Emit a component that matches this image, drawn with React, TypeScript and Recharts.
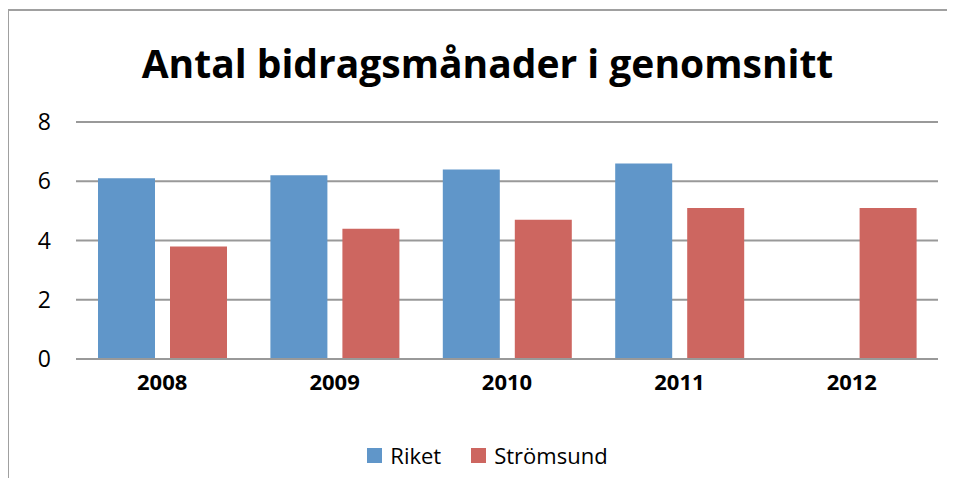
import React from "react";
import { Bar, BarChart, CartesianGrid, Legend, XAxis, YAxis } from "recharts";

const years = ["2008", "2009", "2010", "2011", "2012"];
const riket = [6.1, 6.2, 6.4, 6.6, null];
const stromsund = [3.8, 4.4, 4.7, 5.1, 5.1];
const yTicks = [0, 2, 4, 6, 8];

const data = years.map((year, i) => ({ year, Riket: riket[i], Strömsund: stromsund[i] }));

const font = "'Open Sans', sans-serif";

function LegendContent({ payload }: any) {
    return (
        <div style={{ display: "flex", justifyContent: "center", alignItems: "center", fontFamily: font, fontSize: 22, color: "#000" }}>
            {(payload || []).map((p: any, i: number) => (
                <div key={p.value} style={{ display: "flex", alignItems: "center", marginLeft: i ? 30 : 0 }}>
                    <span style={{ width: 15, height: 15, background: p.color, marginRight: 8, display: "inline-block" }} />
                    <span>{p.value}</span>
                </div>
            ))}
        </div>
    );
}

export default function App() {
    return (
        <div style={{ position: "relative", width: 955, height: 486, margin: -8, overflow: "hidden", background: "#fff" }}>
            <div style={{ position: "absolute", left: 7, top: 9, width: 1000, height: 600, border: "2px solid #a0a0a0" }} />
            <div style={{ position: "absolute", left: 0, top: 36, width: 975, textAlign: "center", fontFamily: font, fontWeight: 700, fontSize: 39, color: "#000" }}>
                Antal bidragsmånader i genomsnitt
            </div>
            <div style={{ position: "absolute", left: 0, top: 0 }}>
                <BarChart width={955} height={486} data={data} margin={{ top: 122, right: 17, left: 0, bottom: 97 }} barSize={57} barGap={15}>
                    <CartesianGrid vertical={false} stroke="#999" strokeWidth={2} />
                    <XAxis dataKey="year" axisLine={{ stroke: "#999", strokeWidth: 2 }} tickLine={false} height={30} tickMargin={9}
                        tick={{ fill: "#000", fontFamily: font, fontWeight: 700, fontSize: 22 }} />
                    <YAxis domain={[0, 8]} ticks={yTicks} width={76} axisLine={false} tickLine={false} tickMargin={19}
                        tick={{ fill: "#000", fontFamily: font, fontSize: 23 }} />
                    <Legend content={<LegendContent />} verticalAlign="middle" align="center" wrapperStyle={{ top: 440, left: 0, width: 975 }} />
                    <Bar dataKey="Riket" fill="#6096C9" isAnimationActive={false} />
                    <Bar dataKey="Strömsund" fill="#CD6660" isAnimationActive={false} />
                </BarChart>
            </div>
        </div>
    );
}
